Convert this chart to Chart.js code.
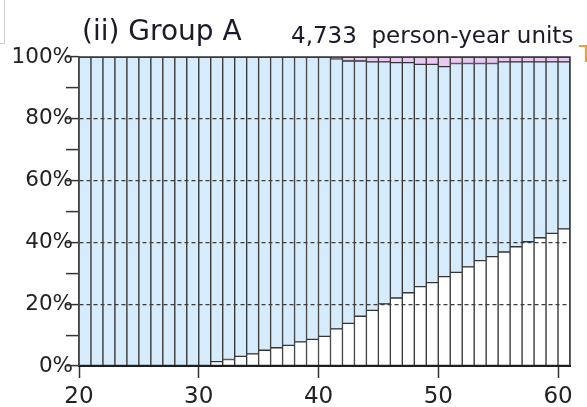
<!DOCTYPE html>
<html>
<head>
<meta charset="utf-8">
<script src="https://cdn.jsdelivr.net/npm/chart.js@4/dist/chart.umd.min.js"></script>
<style>
    html, body { margin: 0; padding: 0; background: #fff; }
    #wrap { position: relative; width: 587px; height: 407px; overflow: hidden; }
    #chart { position: absolute; left: 0; top: 0; }
    .txt { position: absolute; font-family: "DejaVu Sans", sans-serif; line-height: 1; white-space: pre; color: #1a1a2a; }
    #corner { position: absolute; left: 0; top: 0; width: 4px; height: 43px; border-right: 1px solid #cfcfcf; border-bottom: 1px solid #cfcfcf; }
</style>
</head>
<body>
<div id="wrap">
    <canvas id="chart" width="587" height="407"></canvas>
    <div id="corner"></div>
    <div class="txt" style="left:82px; top:17px; font-size:28px;">(ii) Group A</div>
    <div class="txt" style="left:291px; top:24px; font-size:23px;">4,733  person-year units</div>
    <div class="txt" style="left:579px; top:43px; font-size:23px; color:#e9a13b;">T</div>
</div>
<script>
const ages = [20, 21, 22, 23, 24, 25, 26, 27, 28, 29, 30,
              31, 32, 33, 34, 35, 36, 37, 38, 39, 40,
              41, 42, 43, 44, 45, 46, 47, 48, 49, 50,
              51, 52, 53, 54, 55, 56, 57, 58, 59, 60];

// 下段（白）
const whiteShare = [0, 0, 0, 0, 0, 0, 0, 0, 0, 0, 0,
                    1.4, 2.1, 3.1, 3.9, 5.1, 5.9, 6.7, 7.8, 8.6, 9.6,
                    12.0, 13.8, 16.1, 18.0, 20.1, 22.0, 23.7, 25.7, 27.0, 28.9,
                    30.3, 32.1, 34.1, 35.4, 36.9, 38.6, 40.2, 41.5, 42.9, 44.4];

// 中段（水色）
const blueShare = [100, 100, 100, 100, 100, 100, 100, 100, 100, 100, 100,
                   98.6, 97.9, 96.9, 96.1, 94.9, 94.1, 93.3, 92.2, 91.4, 90.4,
                   87.4, 84.9, 82.6, 80.4, 78.3, 76.2, 74.5, 71.9, 70.6, 68.0,
                   67.6, 65.8, 63.8, 62.5, 61.5, 59.8, 58.2, 56.9, 55.5, 54.0];

// 上段（ピンク）
const pinkShare = [0, 0, 0, 0, 0, 0, 0, 0, 0, 0, 0,
                   0, 0, 0, 0, 0, 0, 0, 0, 0, 0,
                   0.6, 1.3, 1.3, 1.6, 1.6, 1.8, 1.8, 2.4, 2.4, 3.1,
                   2.1, 2.1, 2.1, 2.1, 1.6, 1.6, 1.6, 1.6, 1.6, 1.6];

const xTicks = [20, 30, 40, 50, 60];
const yLabelled = [0, 20, 40, 60, 80, 100];
const yDashed = [20, 40, 60, 80];

const EDGE = '#363636';
const FONT = '"DejaVu Sans", sans-serif';

// 各バーは [年齢, 年齢+1] の区間を埋める
function toPoints(values) {
    return values.map((v, i) => ({ x: ages[i] + 0.5, y: v }));
}

function makeSet(values, color) {
    return {
        data: toPoints(values),
        backgroundColor: color,
        borderColor: EDGE,
        borderWidth: 1,
        borderSkipped: false,
        barPercentage: 1,
        categoryPercentage: 1
    };
}

const framePlugin = {
    id: 'frame',
    afterDraw(chart) {
        const { ctx, chartArea: a } = chart;
        ctx.save();
        ctx.strokeStyle = '#333';
        ctx.lineWidth = 1.5;
        ctx.beginPath();
        ctx.moveTo(a.left, a.top);
        ctx.lineTo(a.right, a.top);
        ctx.lineTo(a.right, a.bottom);
        ctx.stroke();
        ctx.restore();
    }
};

new Chart(document.getElementById('chart').getContext('2d'), {
    type: 'bar',
    data: {
        datasets: [
            makeSet(whiteShare, '#ffffff'),
            makeSet(blueShare, '#d6ebfb'),
            makeSet(pinkShare, '#e9c9f1')
        ]
    },
    plugins: [framePlugin],
    options: {
        responsive: false,
        animation: false,
        events: [],
        layout: { padding: { left: 0, top: 57, right: 17, bottom: 0 } },
        plugins: {
            legend: { display: false },
            tooltip: { enabled: false }
        },
        scales: {
            x: {
                type: 'linear',
                stacked: true,
                offset: false,
                min: 20,
                max: 61,
                afterBuildTicks: (scale) => {
                    scale.ticks = xTicks.map(v => ({ value: v }));
                },
                afterFit: (scale) => { scale.height = 41; },
                grid: {
                    z: 1,
                    offset: false,
                    drawOnChartArea: false,
                    tickLength: 12,
                    tickColor: '#333',
                    tickWidth: 1.5
                },
                border: { display: true, color: '#1e1e1e', width: 2, z: 1 },
                ticks: {
                    padding: 5,
                    color: '#222',
                    font: { family: FONT, size: 23 },
                    maxRotation: 0,
                    callback: (v) => v
                }
            },
            y: {
                stacked: true,
                min: 0,
                max: 100,
                afterFit: (scale) => { scale.width = 79; },
                grid: {
                    z: 1,
                    color: (c) => yDashed.includes(c.tick && c.tick.value) ? '#3c3c3c' : 'rgba(0,0,0,0)',
                    lineWidth: 1.2,
                    tickLength: 13,
                    tickColor: '#333',
                    tickWidth: 1.5,
                    tickBorderDash: []
                },
                border: { display: true, color: '#444', width: 1.5, dash: [4, 3], z: 1 },
                ticks: {
                    stepSize: 10,
                    padding: -7,
                    color: '#222',
                    font: { family: FONT, size: 21.5 },
                    callback: (v) => yLabelled.includes(v) ? v + '%' : ''
                }
            }
        }
    }
});
</script>
</body>
</html>
